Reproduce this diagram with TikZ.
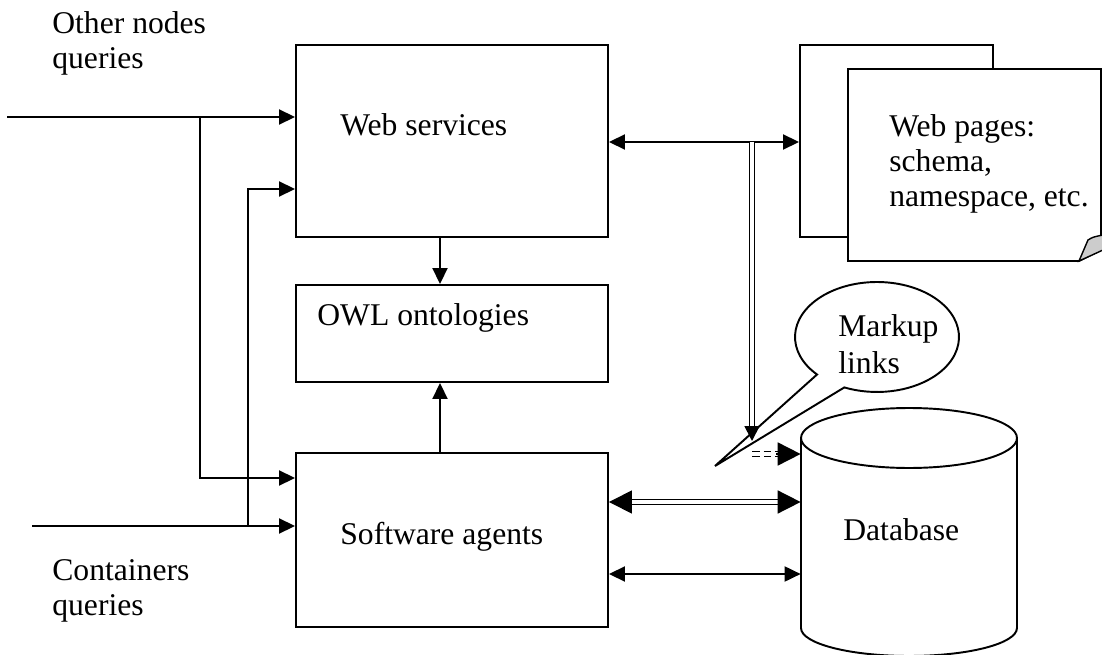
\documentclass[tikz,border=0pt]{standalone}
\usepackage{fontspec}
\setmainfont{Liberation Serif}
\usetikzlibrary{arrows.meta,fit,calc}
\begin{document}
\begin{tikzpicture}[x=0.02cm,y=-0.02cm,
  box/.style={draw,line width=1.1pt,inner sep=0pt},
  ghost/.style={inner sep=0pt},
  lbl/.style={font=\fontsize{18}{20}\selectfont,inner sep=0pt,anchor=west,align=left},
  ln/.style={line width=1.1pt},
  sarr/.style={-{Triangle[length=0.32cm,width=0.3cm]}},
  sboth/.style={{Triangle[length=0.32cm,width=0.3cm]}-{Triangle[length=0.32cm,width=0.3cm]}},
  bboth/.style={{Triangle[length=0.46cm,width=0.46cm]}-{Triangle[length=0.46cm,width=0.46cm]}},
  dbl/.style={line width=0.9pt,double,double distance=2pt}
]
\useasboundingbox (0,0) rectangle (1102,655);

% boxes
\node[box,fit={(296,45)(608,237)}] (ws) {};
\node[box,fit={(296,285)(608,382)}] (owl) {};
\node[box,fit={(296,453)(608,627)}] (sa) {};

% web pages (back and front)
\node[box,fit={(800,45)(993,237)}] (wpb) {};
\draw[ln,fill=white] (848,69) -- (1101,69) -- (1101,250) -- (1079,261) -- (848,261) -- cycle;
\node[ghost,fit={(848,69)(1101,261)}] (wpf) {};
\draw[line width=0.8pt,fill=gray!40] (1079,261) -- (1088,240) .. controls (1093,237) .. (1103,235) -- (1103,250) -- cycle;

% database
\draw[ln] (801,438) -- (801,628) arc[start angle=180,end angle=360,x radius=2.16cm,y radius=0.56cm] -- (1017,438);
\draw[ln] (909,438) ellipse[x radius=2.16cm,y radius=0.6cm];
\node[ghost,fit={(801,408)(1017,656)}] (db) {};

% texts
\node[lbl] (oq) at (52,43) {Other nodes\\queries};
\node[lbl] (cq) at (52,591) {Containers\\queries};
\node[lbl] (tws) at (340,125) {Web services};
\node[lbl] (towl) at (317,318) {OWL ontologies};
\node[lbl] (tsa) at (340,537) {Software agents};
\node[lbl] (twp) at (889,164) {Web pages:\\schema,\\namespace, etc.};
\node[lbl] (tdb) at (843,530) {Database};

% helper coordinates
\coordinate (in1) at (7,117);
\coordinate (j1) at (200,117);
\coordinate (in2) at (32,526);
\coordinate (j2) at (248,526);
\coordinate (y478) at (0,478);
\coordinate (y189) at (0,189);
\coordinate (x440) at (440,0);
\coordinate (y142) at (0,142);
\coordinate (y502) at (0,502);
\coordinate (y574) at (0,574);

% left inputs
\draw[ln,sarr] (in1) -- (in1 -| ws.west);
\draw[ln,sarr] (j1) |- (sa.west |- y478);
\draw[ln,sarr] (in2) -- (in2 -| sa.west);
\draw[ln,sarr] (j2) |- (ws.west |- y189);

% vertical links to OWL
\draw[ln,sarr] (x440 |- ws.south) -- (x440 |- owl.north);
\draw[ln,sarr] (x440 |- sa.north) -- (x440 |- owl.south);

% right links
\draw[ln,sboth] (ws.east |- y142) -- (wpb.west |- y142);
\draw[dbl,bboth] (sa.east |- y502) -- (db.west |- y502);
\draw[ln,sboth] (sa.east |- y574) -- (db.west |- y574);

% double line down to database
\coordinate (d1) at (752,142);
\coordinate (d1b) at (752,430);
\coordinate (d2) at (752,441);
\coordinate (d3) at (752,454);
\coordinate (d4) at (778,454);
\draw[dbl] (d1) -- (d1b);
\draw[line width=1pt,-{Triangle[length=0.3cm,width=0.3cm]}] ($(d1b)+(0,-4)$) -- (d2);
\draw[dbl,dash pattern=on 0.15cm off 0.08cm] (d3) -- (d4);
\draw[line width=1pt,-{Triangle[length=0.46cm,width=0.46cm]}] ($(d4)+(-2,0)$) -- (db.west |- d3);

% callout
\coordinate (ctr) at (877,337);
\coordinate (ptip) at (715,466);
\draw[ln] (ptip) -- ($(ctr)+(223:1.64cm and 1.1cm)$)
  arc[start angle=223,end angle=-113.5,x radius=1.64cm,y radius=1.1cm] -- cycle;
\node[ghost,fit={(795,282)(959,392)}] (co) {};
\node[lbl,font=\fontsize{18}{21}\selectfont] (tco) at (838,344) {Markup\\links};
\end{tikzpicture}
\end{document}
